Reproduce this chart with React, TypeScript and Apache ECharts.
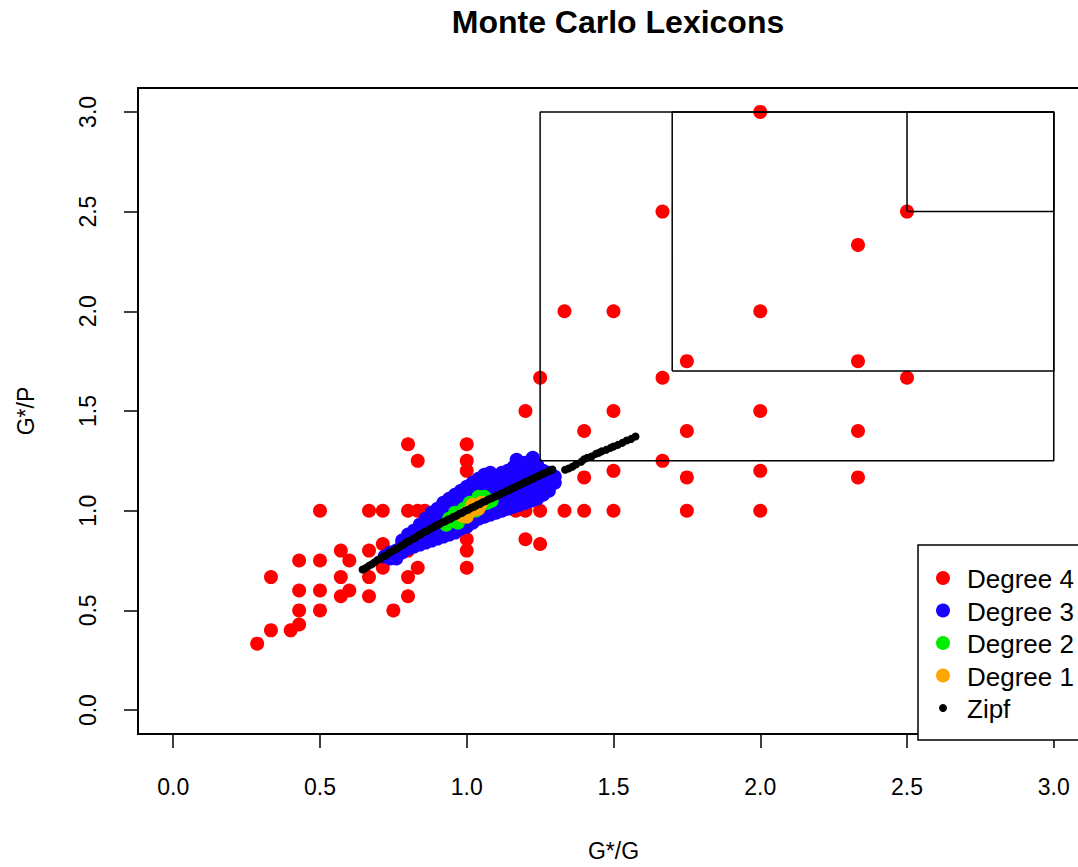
import React, { useEffect, useRef } from "react";
import * as echarts from "echarts";

const FONT = "'Liberation Sans', Arial, Helvetica, sans-serif";

const TITLE = "Monte Carlo Lexicons";
const X_NAME = "G*/G";
const Y_NAME = "G*/P";
const X_TICKS = [0, 0.5, 1, 1.5, 2, 2.5, 3];
const Y_TICKS = [0, 0.5, 1, 1.5, 2, 2.5, 3];

const SERIES_NAMES = ["Degree 4", "Degree 3", "Degree 2", "Degree 1", "Zipf"];
const SERIES_COLORS = ["#ff0000", "#1a00ff", "#00ee00", "#ffa500", "#000000"];

// Degree 4 (red)
const DEGREE4: number[][] = [
  [2.0, 3.0], [1.667, 2.5], [2.5, 2.5], [2.333, 2.333], [1.333, 2.0], [1.5, 2.0], [2.0, 2.0],
  [1.75, 1.75], [2.333, 1.75], [1.25, 1.667], [1.667, 1.667], [2.5, 1.667],
  [1.2, 1.5], [1.5, 1.5], [2.0, 1.5], [1.4, 1.4], [1.75, 1.4], [2.333, 1.4],
  [1.0, 1.333], [0.8, 1.333], [1.667, 1.25], [1.0, 1.25], [0.833, 1.25],
  [1.5, 1.2], [2.0, 1.2], [1.0, 1.2], [1.4, 1.167], [1.75, 1.167], [2.333, 1.167],
  [0.5, 1.0], [0.667, 1.0], [0.714, 1.0], [0.8, 1.0], [0.833, 1.0], [0.857, 1.0], [1.0, 1.0],
  [1.167, 1.0], [1.2, 1.0], [1.25, 1.0], [1.333, 1.0], [1.4, 1.0], [1.5, 1.0], [1.75, 1.0], [2.0, 1.0],
  [1.2, 0.857], [1.25, 0.833], [1.0, 0.857], [1.0, 0.8], [1.0, 0.714],
  [0.714, 0.833], [0.714, 0.714], [0.8, 0.8], [0.833, 0.714], [0.8, 0.667], [0.8, 0.571], [0.75, 0.5],
  [0.571, 0.8], [0.6, 0.75], [0.667, 0.8], [0.429, 0.75], [0.5, 0.75], [0.333, 0.667],
  [0.571, 0.667], [0.667, 0.667], [0.429, 0.6], [0.5, 0.6], [0.6, 0.6], [0.571, 0.571],
  [0.667, 0.571], [0.429, 0.5], [0.5, 0.5], [0.333, 0.4], [0.4, 0.4], [0.429, 0.429], [0.286, 0.333],
];

// Degree 3 (blue)
const DEGREE3: number[][] = [
  [0.72, 0.77],
  [0.74, 0.76], [0.74, 0.79],
  [0.76, 0.76], [0.76, 0.80],
  [0.78, 0.79], [0.78, 0.83], [0.78, 0.85],
  [0.80, 0.81], [0.80, 0.85], [0.80, 0.88],
  [0.82, 0.82], [0.82, 0.86], [0.82, 0.90],
  [0.84, 0.83], [0.84, 0.88], [0.84, 0.93],
  [0.86, 0.84], [0.86, 0.89], [0.86, 0.94], [0.86, 0.96],
  [0.88, 0.85], [0.88, 0.90], [0.88, 0.95], [0.88, 0.99],
  [0.90, 0.86], [0.90, 0.91], [0.90, 0.96], [0.90, 1.01],
  [0.92, 0.87], [0.92, 0.92], [0.92, 0.97], [0.92, 1.02], [0.92, 1.04],
  [0.94, 0.88], [0.94, 0.93], [0.94, 0.98], [0.94, 1.03], [0.94, 1.06],
  [0.96, 0.89], [0.96, 0.94], [0.96, 0.99], [0.96, 1.04], [0.96, 1.08],
  [0.98, 0.91], [0.98, 0.96], [0.98, 1.01], [0.98, 1.06], [0.98, 1.10],
  [1.00, 0.92], [1.00, 0.97], [1.00, 1.02], [1.00, 1.07], [1.00, 1.12],
  [1.02, 0.94], [1.02, 0.99], [1.02, 1.04], [1.02, 1.09], [1.02, 1.14],
  [1.04, 0.96], [1.04, 1.01], [1.04, 1.06], [1.04, 1.11], [1.04, 1.16],
  [1.06, 0.97], [1.06, 1.02], [1.06, 1.07], [1.06, 1.12], [1.06, 1.18],
  [1.08, 0.98], [1.08, 1.03], [1.08, 1.08], [1.08, 1.13], [1.08, 1.19],
  [1.10, 0.99], [1.10, 1.04], [1.10, 1.09], [1.10, 1.14], [1.10, 1.17],
  [1.12, 1.00], [1.12, 1.05], [1.12, 1.10], [1.12, 1.15], [1.12, 1.19],
  [1.14, 1.01], [1.14, 1.06], [1.14, 1.11], [1.14, 1.16], [1.14, 1.20],
  [1.16, 1.02], [1.16, 1.07], [1.16, 1.12], [1.16, 1.17], [1.16, 1.22],
  [1.17, 1.255],
  [1.18, 1.03], [1.18, 1.08], [1.18, 1.13], [1.18, 1.18], [1.18, 1.24],
  [1.20, 1.04], [1.20, 1.09], [1.20, 1.14], [1.20, 1.19], [1.20, 1.24],
  [1.22, 1.05], [1.22, 1.10], [1.22, 1.15], [1.22, 1.20], [1.22, 1.25],
  [1.225, 1.265],
  [1.24, 1.06], [1.24, 1.11], [1.24, 1.16], [1.24, 1.21], [1.24, 1.23],
  [1.26, 1.08], [1.26, 1.13], [1.26, 1.18], [1.26, 1.20],
  [1.28, 1.10], [1.28, 1.15], [1.28, 1.19],
  [1.30, 1.14], [1.30, 1.17],
];

// Degree 2 (green)
const DEGREE2: number[][] = [
  [0.93, 0.93], [0.94, 0.96], [0.95, 0.95], [0.97, 0.94], [0.96, 0.99], [0.98, 0.97],
  [0.99, 1.01], [1.00, 0.98], [1.01, 1.04], [1.03, 1.00], [1.02, 1.04], [1.04, 1.07],
  [1.05, 1.03], [1.06, 1.07], [1.07, 1.04], [1.085, 1.05],
];

// Degree 1 (orange)
const DEGREE1: number[][] = [
  [0.985, 0.975], [1.0, 0.97], [1.0, 0.99], [1.015, 1.0], [1.02, 1.03],
  [1.03, 1.02], [1.04, 1.01], [1.05, 1.04],
];

// Zipf (black)
const ZIPF: number[][] = [
  [0.645, 0.705], [0.655, 0.712], [0.665, 0.722], [0.675, 0.73], [0.685, 0.74], [0.695, 0.752],
  [0.705, 0.758], [0.715, 0.77], [0.725, 0.775], [0.735, 0.788], [0.745, 0.795], [0.755, 0.805],
  [0.765, 0.812], [0.775, 0.822], [0.785, 0.83], [0.795, 0.842], [0.805, 0.848], [0.815, 0.858],
  [0.825, 0.865], [0.835, 0.876], [0.845, 0.882], [0.855, 0.893], [0.865, 0.898], [0.875, 0.908],
  [0.885, 0.915], [0.895, 0.925], [0.905, 0.93], [0.915, 0.94], [0.925, 0.945], [0.935, 0.955],
  [0.945, 0.96], [0.955, 0.97], [0.965, 0.975], [0.975, 0.985], [0.985, 0.99], [0.995, 1.0],
  [1.005, 1.005], [1.015, 1.014], [1.025, 1.02], [1.035, 1.028], [1.045, 1.034], [1.055, 1.043],
  [1.065, 1.048], [1.075, 1.057], [1.085, 1.062], [1.095, 1.07], [1.105, 1.076], [1.115, 1.084],
  [1.125, 1.09], [1.135, 1.098], [1.145, 1.104], [1.155, 1.112], [1.165, 1.118], [1.175, 1.126],
  [1.185, 1.132], [1.195, 1.14], [1.205, 1.146], [1.215, 1.154], [1.225, 1.16], [1.235, 1.168],
  [1.245, 1.174], [1.255, 1.182], [1.265, 1.188], [1.275, 1.196], [1.285, 1.2], [1.292, 1.207],
  [1.335, 1.205], [1.347, 1.212], [1.36, 1.22], [1.372, 1.232], [1.39, 1.245], [1.40, 1.258],
  [1.41, 1.265], [1.425, 1.272], [1.44, 1.285], [1.45, 1.29], [1.46, 1.298], [1.475, 1.305],
  [1.49, 1.315], [1.5, 1.322], [1.515, 1.33], [1.53, 1.34], [1.545, 1.352], [1.56, 1.36], [1.575, 1.372],
];

// rectangles: [x0, y0, x1, y1]
const BOXES: number[][] = [
  [1.25, 1.25, 3.0, 3.0],
  [1.7, 1.7, 3.0, 3.0],
  [2.5, 2.5, 3.0, 3.0],
];

export default function App() {
  const ref = useRef<HTMLDivElement>(null);
  useEffect(() => {
    if (!ref.current) return;
    const chart = echarts.init(ref.current, undefined, { renderer: "svg" });
    const pointData = [DEGREE4, DEGREE3, DEGREE2, DEGREE1, ZIPF];
    const scatter = pointData.map((d, i) => ({
      type: "scatter",
      name: SERIES_NAMES[i],
      data: d,
      symbol: "circle",
      symbolSize: i === 4 ? 8 : 14,
      itemStyle: { color: SERIES_COLORS[i], opacity: 1 },
      silent: true,
      z: 2 + i,
    }));
    const boxes = BOXES.map((b) => ({
      type: "line",
      data: [[b[0], b[1]], [b[2], b[1]], [b[2], b[3]], [b[0], b[3]], [b[0], b[1]]],
      symbol: "none",
      lineStyle: { color: "#000", width: 1.5 },
      silent: true,
      z: 10,
    }));

    const legendTop = 545;
    const legendLeft = 918;
    const legendItems: any[] = [];
    SERIES_NAMES.forEach((n, i) => {
      const cy = 578 + i * 32.5;
      legendItems.push({
        type: "circle",
        shape: { cx: 943, cy, r: i === 4 ? 4 : 7 },
        style: { fill: SERIES_COLORS[i] },
        z: 20,
      });
      legendItems.push({
        type: "text",
        x: 967,
        y: cy + 1,
        style: {
          text: n,
          fill: "#000",
          font: `26px ${FONT}`,
          verticalAlign: "middle",
          align: "left",
        },
        z: 20,
      });
    });

    chart.setOption({
      animation: false,
      title: {
        text: TITLE,
        left: 613,
        top: 1,
        textAlign: "center",
        textStyle: { fontFamily: FONT, fontSize: 32, fontWeight: "bold", color: "#000" },
      },
      grid: {
        left: 138,
        top: 88,
        width: 951,
        height: 652,
        show: true,
        borderColor: "#000",
        borderWidth: 2,
        backgroundColor: "transparent",
      },
      xAxis: {
        type: "value",
        min: -0.12,
        max: 3.12,
        name: X_NAME,
        nameLocation: "middle",
        nameGap: 105,
        nameTextStyle: { fontFamily: FONT, fontSize: 23, color: "#000" },
        splitLine: { show: false },
        axisLine: { show: false, onZero: false },
        axisTick: { show: true, customValues: X_TICKS, length: 14, lineStyle: { color: "#000", width: 1.5 } },
        axisLabel: {
          customValues: X_TICKS,
          formatter: (v: number) => v.toFixed(1),
          fontFamily: FONT,
          fontSize: 23,
          color: "#000",
          margin: 41,
        },
      },
      yAxis: {
        type: "value",
        min: -0.12,
        max: 3.12,
        name: Y_NAME,
        nameLocation: "middle",
        nameRotate: 90,
        nameGap: 101,
        nameTextStyle: { fontFamily: FONT, fontSize: 23, color: "#000" },
        splitLine: { show: false },
        axisLine: { show: false, onZero: false },
        axisTick: { show: true, customValues: Y_TICKS, length: 14, lineStyle: { color: "#000", width: 1.5 } },
        axisLabel: {
          customValues: Y_TICKS,
          formatter: (v: number) => v.toFixed(1),
          rotate: 90,
          fontFamily: FONT,
          fontSize: 23,
          color: "#000",
          margin: 39,
        },
      },
      graphic: [
        {
          type: "rect",
          shape: { x: legendLeft, y: legendTop, width: 1089 - legendLeft, height: 740 - legendTop },
          style: { fill: "#fff", stroke: "#000", lineWidth: 1.5 },
          z: 19,
        },
        ...legendItems,
      ],
      series: [...scatter, ...boxes],
    });
    return () => chart.dispose();
  }, []);

  return (
    <div style={{ position: "fixed", left: 0, top: 0, width: 1078, height: 867, overflow: "hidden", background: "#fff" }}>
      <div ref={ref} style={{ width: 1100, height: 867 }} />
    </div>
  );
}
